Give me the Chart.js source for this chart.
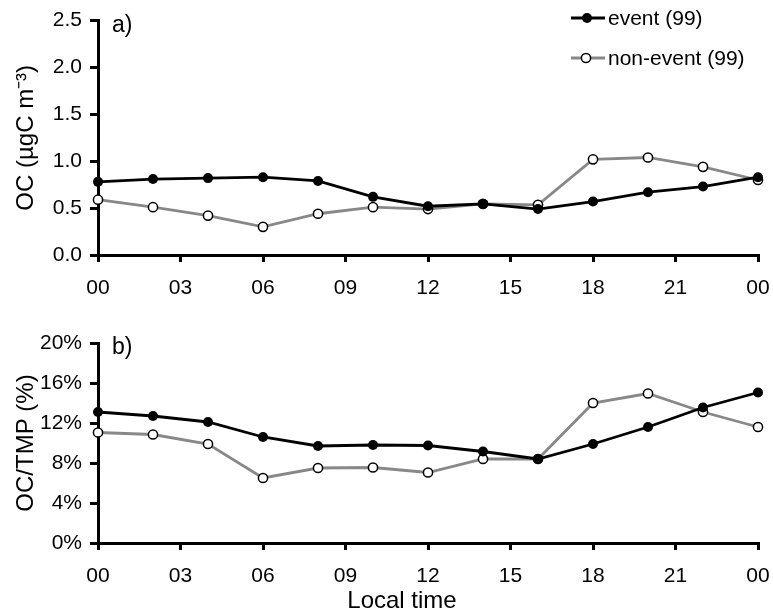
<!DOCTYPE html>
<html>
<head>
<meta charset="utf-8">
<script src="https://cdn.jsdelivr.net/npm/chart.js@4.4.1/dist/chart.umd.min.js"></script>
<style>
  body { margin: 0; background: #fff; font-family: "Liberation Sans", Arial, sans-serif; }
  .panel { position: absolute; left: 0; width: 773px; }
  #legend { position: absolute; left: 570px; top: 4px; font-size: 21px; color: #000; }
  #legend div { display: flex; align-items: center; height: 28px; margin-bottom: 12px; }
  #legend svg { margin-right: 2px; }
</style>
</head>
<body>
<div class="panel" style="top:0;height:300px"><canvas id="ocChart" width="773" height="300"></canvas></div>
<div class="panel" style="top:300px;height:315px"><canvas id="ratioChart" width="773" height="315"></canvas></div>
<div id="legend">
  <div><svg width="36" height="12"><line x1="1" y1="6" x2="35" y2="6" stroke="#000" stroke-width="2.8"/><circle cx="17" cy="6" r="5" fill="#000"/></svg>event (99)</div>
  <div><svg width="36" height="12"><line x1="1" y1="6" x2="35" y2="6" stroke="#888" stroke-width="2.8"/><circle cx="16" cy="6" r="4.6" fill="#fff" stroke="#000" stroke-width="1.5"/></svg>non-event (99)</div>
</div>
<script>
const hours = [0, 2, 4, 6, 8, 10, 12, 14, 16, 18, 20, 22, 24];
const xTickLabels = ['00', '03', '06', '09', '12', '15', '18', '21', '00'];

// panel a) OC (ugC m-3)
const eventOC = [0.78, 0.81, 0.82, 0.83, 0.79, 0.62, 0.52, 0.545, 0.49, 0.57, 0.67, 0.73, 0.83];
const nonEventOC = [0.59, 0.51, 0.42, 0.30, 0.44, 0.51, 0.49, 0.545, 0.535, 1.02, 1.04, 0.94, 0.80];

// panel b) OC/TMP (%)
const eventRatio = [13.1, 12.7, 12.1, 10.6, 9.7, 9.8, 9.75, 9.15, 8.4, 9.9, 11.6, 13.55, 15.05];
const nonEventRatio = [11.05, 10.85, 9.9, 6.5, 7.5, 7.55, 7.05, 8.4, 8.4, 14.0, 14.95, 13.1, 11.6];

const FONT = '"Liberation Sans", Arial, sans-serif';

function toPoints(values) {
  return hours.map((h, i) => ({ x: h, y: values[i] }));
}

function datasets(ev, nonEv) {
  return [
    {
      label: 'event (99)',
      data: toPoints(ev),
      borderColor: '#000',
      backgroundColor: '#000',
      borderWidth: 2.8,
      pointRadius: 5,
      pointBorderWidth: 0,
      pointBackgroundColor: '#000',
      clip: false
    },
    {
      label: 'non-event (99)',
      data: toPoints(nonEv),
      borderColor: '#888',
      borderWidth: 2.8,
      pointRadius: 4.6,
      pointBorderWidth: 1.5,
      pointBorderColor: '#000',
      pointBackgroundColor: '#fff',
      clip: false
    }
  ];
}

// draws the panel letter and (optionally) the x title where the original puts them
const panelText = {
  id: 'panelText',
  afterDraw(chart, args, opts) {
    const ctx = chart.ctx;
    const area = chart.chartArea;
    ctx.save();
    ctx.fillStyle = '#000';
    ctx.font = '23px ' + FONT;
    ctx.textBaseline = 'middle';
    ctx.fillText(opts.letter, area.left + 14, area.top + 5);
    if (opts.xTitle) {
      ctx.font = '24px ' + FONT;
      ctx.textAlign = 'center';
      ctx.fillText(opts.xTitle, 402, chart.height - 14);
    }
    ctx.restore();
  }
};

function makeOptions(cfg) {
  return {
    responsive: false,
    animation: false,
    layout: { padding: { left: 12, right: 15, top: cfg.top, bottom: 0 } },
    plugins: {
      legend: { display: false },
      tooltip: { enabled: false },
      panelText: { letter: cfg.letter, xTitle: cfg.xTitle }
    },
    scales: {
      x: {
        type: 'linear',
        min: 0,
        max: 24,
        afterBuildTicks: (s) => { s.ticks = [0, 3, 6, 9, 12, 15, 18, 21, 24].map(v => ({ value: v })); },
        ticks: {
          color: '#000',
          font: { size: 21, family: FONT },
          padding: 14,
          maxRotation: 0,
          callback: (v, i) => xTickLabels[i]
        },
        grid: { drawOnChartArea: false, tickLength: 7, color: '#000', lineWidth: 3 },
        border: { color: '#000', width: 3 },
        afterFit: (s) => {
          s.height = cfg.xHeight;
          s.paddingLeft = 0;
          s.paddingRight = 0;
        }
      },
      y: {
        min: cfg.yMin,
        max: cfg.yMax,
        ticks: {
          stepSize: cfg.yStep,
          color: '#000',
          font: { size: 21, family: FONT },
          padding: 8,
          callback: cfg.yFmt
        },
        grid: { drawOnChartArea: false, tickLength: 8, color: '#000', lineWidth: 3 },
        border: { color: '#000', width: 3 },
        title: {
          display: true,
          text: cfg.yTitle,
          color: '#000',
          font: { size: 24, family: FONT },
          padding: { top: 0, bottom: 0 }
        },
        afterFit: (s) => { s.width = 86; }
      }
    }
  };
}

new Chart(document.getElementById('ocChart'), {
  type: 'line',
  data: { datasets: datasets(eventOC, nonEventOC) },
  options: makeOptions({
    top: 20, xHeight: 45, letter: 'a)',
    yMin: 0, yMax: 2.5, yStep: 0.5,
    yFmt: (v) => v.toFixed(1),
    yTitle: 'OC (\u00b5gC m\u207b\u00b3)'
  }),
  plugins: [panelText]
});

new Chart(document.getElementById('ratioChart'), {
  type: 'line',
  data: { datasets: datasets(eventRatio, nonEventRatio) },
  options: makeOptions({
    top: 43, xHeight: 72, letter: 'b)', xTitle: 'Local time',
    yMin: 0, yMax: 20, yStep: 4,
    yFmt: (v) => v + '%',
    yTitle: 'OC/TMP (%)'
  }),
  plugins: [panelText]
});
</script>
</body>
</html>
